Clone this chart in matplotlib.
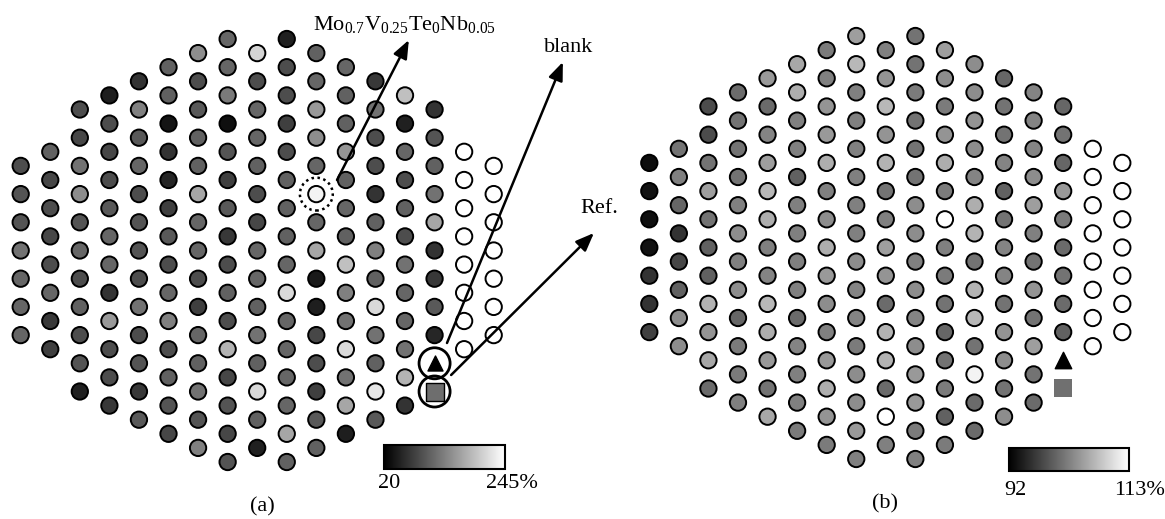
"""
Carte des rendements par puce (a) et stabilite (b) - reprise de la figure.
Sortie : out.png
"""
import numpy as np
import matplotlib
matplotlib.use("Agg")
import matplotlib.pyplot as plt

plt.rcParams["font.family"] = ["Liberation Serif", "DejaVu Serif"]
plt.rcParams["mathtext.fontset"] = "custom"
plt.rcParams["mathtext.rm"] = "Liberation Serif"
plt.rcParams["mathtext.it"] = "Liberation Serif:italic"

# premiere ligne (demi-pas) de chaque colonne du reseau hexagonal
row_start = [9, 8, 5, 4, 3, 2, 1, 0, 1, 0, 1, 2, 3, 4, 5, 8, 9]

# (a) rendement relatif, %  (None = puce non mesuree)
vals_a = [
    [88, 94, 94, 121, 110, 110, 110],
    [106, 83, 88, 83, 88, 110, 70, 76],
    [88, 83, 121, 144, 94, 110, 88, 106, 88, 94, 49],
    [47, 88, 83, 88, 99, 110, 110, 65, 155, 88, 88, 70],
    [65, 133, 99, 110, 88, 94, 94, 88, 121, 88, 94, 70, 99],
    [106, 106, 38, 65, 54, 76, 99, 88, 110, 133, 88, 106, 94, 83],
    [144, 88, 99, 106, 106, 166, 110, 110, 88, 76, 110, 106, 121, 94, 133],
    [110, 110, 128, 34, 94, 76, 99, 70, 88, 106, 88, 178, 83, 94, 83, 94],
    [207, 88, 110, 110, 106, 88, 83, 110, 110, 106, 121, 106, 211, 106, 49],
    [49, 88, 88, 76, 88, 106, 106, 106, 110, 211, 110, 110, 110, 110, 166, 106],
    [106, 110, 155, 144, 110, 234, 110, 166, 42, 47, 83, 88, 76, 99, 106],
    [110, 106, 106, 151, 106, 110, 106, 189, 133, 121, 211, 121, 166, 47],
    [70, 121, 88, 88, 65, 106, 133, 106, 211, 121, 106, 223, 99],
    [189, 49, 110, 88, 106, 88, 121, 110, 110, 121, 178, 65],
    [65, 94, 106, 121, 166, 65, 70, 99, 54],
    [None] * 8,
    [None] * 7,
]

# (b) %, meme reseau
vals_b = [
    [93.1, 93.5, 93.3, 93.5, 96.2, 96.2, 97.3],
    [101.5, 102.5, 100.4, 96.2, 97.9, 100.0, 103.6, 103.6],
    [98.3, 98.3, 101.5, 105.0, 101.5, 100.0, 100.0, 106.7, 104.2, 105.7, 100.8],
    [100.8, 101.5, 101.5, 101.5, 102.5, 103.6, 102.5, 103.6, 100.4, 102.1, 102.1, 102.5],
    [104.6, 100.8, 102.9, 105.0, 107.1, 106.3, 102.5, 102.9, 107.1, 106.3, 104.6, 101.5, 105.7],
    [105.7, 106.3, 102.5, 102.5, 100.0, 102.5, 102.5, 102.5, 102.5, 100.8, 102.9, 102.5, 102.5, 102.1],
    [102.1, 102.5, 104.2, 104.6, 106.3, 102.5, 103.6, 106.3, 104.6, 103.6, 102.5, 104.6, 106.3, 104.2, 102.1],
    [105.0, 107.1, 102.5, 102.5, 102.5, 102.5, 102.5, 102.5, 103.6, 102.9, 102.9, 102.1, 103.6, 103.6, 104.6, 102.5],
    [102.5, 104.2, 107.1, 104.2, 106.7, 101.5, 102.5, 105.0, 104.2, 100.8, 106.7, 106.7, 100.8, 113.0, 102.5],
    [101.5, 101.5, 102.1, 101.5, 101.5, 101.5, 103.6, 103.6, 102.5, 103.6, 102.9, 103.6, 104.6, 104.6, 102.1, 102.5],
    [105.0, 103.6, 102.1, 104.2, 106.3, 102.1, 113.0, 102.5, 102.1, 101.5, 100.4, 101.5, 102.1, 100.0, 102.1],
    [103.6, 103.6, 104.2, 103.6, 102.9, 106.3, 106.7, 101.5, 106.7, 107.1, 101.5, 112.0, 100.8, 100.8],
    [100.4, 101.5, 101.5, 102.9, 100.0, 101.5, 102.9, 102.9, 101.5, 104.2, 103.6, 101.5, 103.6],
    [102.9, 102.9, 102.9, 103.6, 105.0, 102.5, 101.5, 104.2, 101.5, 105.0, 101.5, 100.8],
    [100.4, 101.5, 100.4, 104.6, 102.1, 100.8, 101.5, 100.8, 100.0],
    [None] * 8,
    [None] * 7,
]

range_a = (20, 245)
range_b = (92, 113)
blank_pos = (14, 23)   # (colonne, demi-ligne)
ref_pos = (14, 25)
mo_pos = (10, 11)      # Mo0.7V0.25Te0Nb0.05

# geometrie en pixels du dessin d'origine
W, H = 1165, 519
DX, DY = 29.5625, 14.1


def flatten(vals):
    xs, ys, cs = [], [], []
    for i, col in enumerate(vals):
        for k, v in enumerate(col):
            xs.append(i)
            ys.append(row_start[i] + 2 * k)
            cs.append(np.nan if v is None else v)
    return np.array(xs), np.array(ys), np.array(cs, dtype=float)


def make_ax(left_px, right_px, x0, y0):
    ax = fig.add_axes([left_px / W, 0, (right_px - left_px) / W, 1])
    ax.set_xlim((left_px - x0) / DX, (right_px - x0) / DX)
    ax.set_ylim((H - y0) / DY, (0 - y0) / DY)
    ax.axis("off")
    return ax


cmap = plt.get_cmap("gray").with_extremes(bad="white")
fig = plt.figure(figsize=(W / 100, H / 100), dpi=100)

panels = [
    (vals_a, range_a, (0, 582.5, 20.7, 39), (384, 444.5, 121, 24), "(a)", (4, -4), (-14, -4), "245%", "20"),
    (vals_b, range_b, (582.5, 1165, 649.3, 36), (1008.5, 447.5, 120.5, 23.5), "(b)", (5, -7), (-11, -7), "113%", "92"),
]

axes = []
for vals, (vmin, vmax), geo, cb, lab, off_lo, off_hi, txt_hi, txt_lo in panels:
    ax = make_ax(*geo)
    axes.append(ax)
    xs, ys, cs = flatten(vals)
    sc = ax.scatter(xs, ys, c=cs, cmap=cmap, vmin=vmin, vmax=vmax, s=138,
                    edgecolors="black", linewidths=1.4, plotnonfinite=True, zorder=3)
    ax.text(7.97 if lab == "(b)" else 8.19, 33.2, lab, fontsize=16,
            ha="center", va="center")

    # barre de couleur
    cx, cy, cw, ch = cb
    cax = fig.add_axes([cx / W, 1 - (cy + ch) / H, cw / W, ch / H])
    cbar = fig.colorbar(sc, cax=cax, orientation="horizontal", ticks=[])
    cbar.outline.set_linewidth(1.5)
    cax.annotate(txt_lo, xy=(0, 0), xycoords="axes fraction", xytext=off_lo,
                 textcoords="offset points", ha="center", va="top", fontsize=16)
    cax.annotate(txt_hi, xy=(1, 0), xycoords="axes fraction", xytext=off_hi,
                 textcoords="offset points", ha="left", va="top", fontsize=16)

ax_a, ax_b = axes

# blanc (triangle) et reference (carre)
ax_a.scatter(*blank_pos, marker="^", s=117, color="black", zorder=4)
ax_a.scatter(*ref_pos, marker="s", s=150, color="#6e6e6e", edgecolors="black",
             linewidths=1.0, zorder=4)
ax_a.scatter([blank_pos[0], ref_pos[0]], [blank_pos[1], ref_pos[1]], s=500,
             facecolors="none", edgecolors="black", linewidths=2.0, zorder=4)
ax_a.scatter(*mo_pos, s=560, facecolors="none", edgecolors="black",
             linewidths=1.8, linestyle=(0, (1, 1.4)), zorder=4)

ax_b.scatter(*blank_pos, marker="^", s=140, color="black", zorder=4)
ax_b.scatter(*ref_pos, marker="s", s=168, color="#707070", linewidths=0, zorder=4)

# fleches d'annotation (coordonnees du reseau)
arrow = dict(arrowstyle="-|>,head_length=0.55,head_width=0.22", lw=1.8,
             color="black", shrinkA=0, shrinkB=0, mutation_scale=20)
for tip, tail in [((13.13, 0.07), (10.70, 10.0)),
                  ((18.34, 1.63), (14.42, 21.56)),
                  ((19.39, 13.76), (14.56, 23.83))]:
    ax_a.annotate("", xy=tip, xytext=tail, arrowprops=arrow, zorder=5,
                  annotation_clip=False)

ax_a.text(12.97, -0.64, r"Mo$_{0.7}$V$_{0.25}$Te$_{0}$Nb$_{0.05}$", fontsize=16,
          ha="center", va="baseline")
ax_a.text(18.55, 0.90, "blank", fontsize=16, ha="center", va="baseline")
ax_a.text(19.56, 12.34, "Ref.", fontsize=16, ha="center", va="baseline", clip_on=False)

fig.savefig("out.png", dpi=100)
print("[OK] out.png")
